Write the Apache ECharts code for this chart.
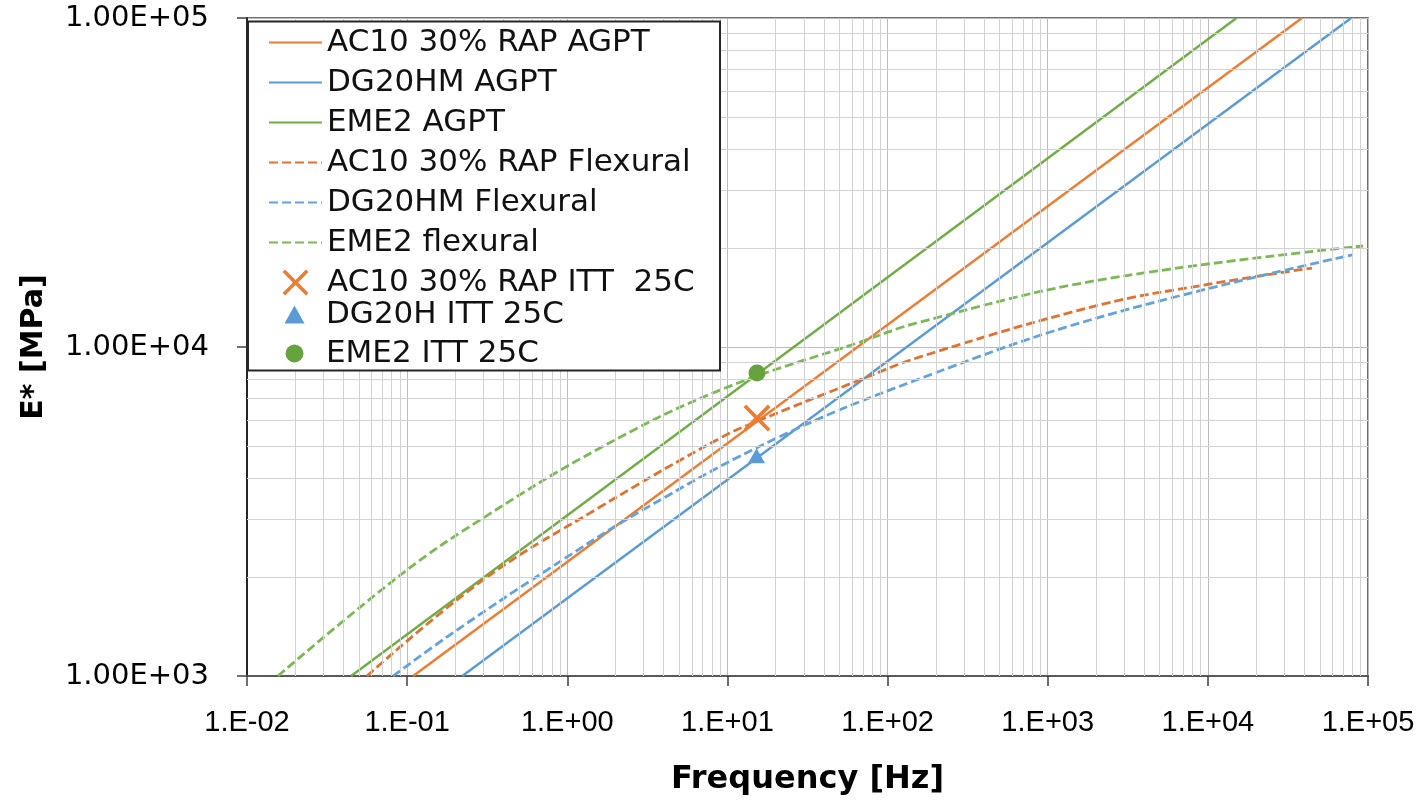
<!DOCTYPE html>
<html><head><meta charset="utf-8">
<script src="https://cdn.jsdelivr.net/npm/echarts@6/dist/echarts.min.js"></script>
<style>html,body{margin:0;padding:0;background:#fff}#c{width:1426px;height:802px}</style>
</head><body><div id="c"></div>
<script>
// ---- data (frequency [Hz], E* [MPa]) ----
const xTickLabels = ['1.E-02','1.E-01','1.E+00','1.E+01','1.E+02','1.E+03','1.E+04','1.E+05'];
const yTickLabels = ['1.00E+03','1.00E+04','1.00E+05'];
const seriesNames = ['AC10 30% RAP AGPT','DG20HM AGPT','EME2 AGPT','AC10 30% RAP Flexural','DG20HM Flexural','EME2 flexural','AC10 30% RAP ITT  25C','DG20H ITT 25C','EME2 ITT 25C'];

const ac10Agpt  = [[0.109, 1000], [38700, 100000]];
const dg20hmAgpt = [[0.221, 1000], [78500, 100000]];
const eme2Agpt  = [[0.0447, 1000], [15100, 100000]];

const ac10Flex = [[0.0561,1000],[0.298,1959],[1.53,3221],[8.99,5284],[15.3,5940],[67.3,7943],[159.6,9333],[2123,13430],[10000,15500],[44670,17380]];
const dg20hmFlex = [[0.0817,1000],[0.1854,1334],[0.746,2099],[2.97,3199],[20.3,5284],[159.6,8017],[2123,12331],[79430,19055]];
const eme2Flex = [[0.0156,1000],[0.0942,2056],[0.298,3020],[1.60,4932],[8.99,7396],[67.3,10351],[159.6,11912],[2123,15996],[93100,20277]];

const ac10Itt = [[15.3, 6080]];
const dg20hItt = [[15.2, 4670]];
const eme2Itt = [[15.3, 8340]];

const ORANGE = '#ED7D31', BLUE = '#5B9BD5', GREEN = '#70AD47';

// minor grid positions (2..9 per decade)
const minorX = [], minorY = [];
for (let e = -2; e < 5; e++) for (let m = 2; m < 10; m++) minorX.push(m * Math.pow(10, e));
for (let e = 3; e < 5; e++) for (let m = 2; m < 10; m++) minorY.push(m * Math.pow(10, e));

const chart = echarts.init(document.getElementById('c'), null, {renderer: 'canvas'});
const solid = (name, data, color) => ({name, type: 'line', data, symbol: 'none', showSymbol: false, z: 3,
  lineStyle: {color, width: 2.5, type: 'solid'}, itemStyle: {color}, animation: false});
const dashed = (name, data, color) => ({name, type: 'line', data, symbol: 'none', showSymbol: false,
  smooth: 0.4, z: 3,
  lineStyle: {color, width: 2.8, type: [9, 4]}, itemStyle: {color}, animation: false});

const legendText = {fontFamily: 'DejaVu Sans', fontSize: 31, color: '#111', lineHeight: 30};
const TRI = 'path://M5,0 L10,9 L0,9 Z';
const XMARK = 'path://M0,2 L2,0 L10,8 L18,0 L20,2 L12,10 L20,18 L18,20 L10,12 L2,20 L0,18 L8,10 Z';
const hideSym = {opacity: 0, borderWidth: 0};

chart.setOption({
  backgroundColor: '#fff',
  animation: false,
  grid: {left: 247, right: 58, top: 18, bottom: 126, show: true, borderColor: '#404040', borderWidth: 1.5},
  xAxis: {
    type: 'log', logBase: 10, min: 0.01, max: 100000, interval: 1,
    name: 'Frequency [Hz]', nameLocation: 'middle', nameGap: 88,
    nameTextStyle: {fontFamily: 'DejaVu Sans', fontWeight: 'bold', fontSize: 32, color: '#000'},
    axisLine: {show: true, lineStyle: {color: '#595959', width: 2}},
    axisTick: {show: true, inside: false, length: 10, lineStyle: {color: '#404040', width: 1.5}},
    axisLabel: {margin: 32, fontFamily: 'Liberation Sans', fontSize: 29, color: '#000', showMinLabel: true, showMaxLabel: true,
      formatter: v => xTickLabels[Math.round(Math.log10(v)) + 2]},
    splitLine: {show: true, lineStyle: {color: '#bcbcbc', width: 1}}
  },
  yAxis: {
    type: 'log', logBase: 10, min: 1000, max: 100000, interval: 1,
    name: 'E* [MPa]', nameLocation: 'middle', nameGap: 198, nameRotate: 90,
    nameTextStyle: {fontFamily: 'DejaVu Sans', fontWeight: 'bold', fontSize: 30, color: '#000'},
    axisLine: {show: true, lineStyle: {color: '#262626', width: 2}},
    axisTick: {show: true, inside: false, length: 10, lineStyle: {color: '#404040', width: 1.5}},
    axisLabel: {margin: 38, fontFamily: 'DejaVu Sans', fontSize: 29, color: '#000', showMinLabel: true, showMaxLabel: true,
      formatter: v => yTickLabels[Math.round(Math.log10(v)) - 3]},
    splitLine: {show: true, lineStyle: {color: '#bcbcbc', width: 1}}
  },
  graphic: {elements: [{type: 'rect', z: 50, silent: true,
    shape: {x: 248, y: 21.5, width: 472, height: 349},
    style: {fill: '#fff', stroke: '#262626', lineWidth: 2}}]},
  legend: [
    {data: seriesNames.slice(0, 6).map(n => ({name: n, itemStyle: hideSym})).concat([{name: seriesNames[6]}]),
     orient: 'vertical', left: 268, top: 27, padding: 0, z: 60,
     itemWidth: 53, itemHeight: 26, itemGap: 9, textStyle: legendText, selectedMode: false},
    {data: [seriesNames[7], seriesNames[8]],
     orient: 'vertical', left: 284.5, top: 299, padding: 0, z: 60,
     itemWidth: 53, itemHeight: 18, itemGap: 8, textStyle: legendText, selectedMode: false}
  ],
  series: [
    {name: 'minor-grid', type: 'line', data: [], z: 1, silent: true, animation: false,
     markLine: {silent: true, symbol: ['none', 'none'], label: {show: false}, animation: false,
       lineStyle: {color: '#d2d2d2', width: 1, type: 'solid'}, emphasis: {disabled: true},
       data: minorX.map(v => ({xAxis: v})).concat(minorY.map(v => ({yAxis: v})))}},
    solid(seriesNames[0], ac10Agpt, ORANGE),
    solid(seriesNames[1], dg20hmAgpt, BLUE),
    solid(seriesNames[2], eme2Agpt, GREEN),
    dashed(seriesNames[3], ac10Flex, '#E0722F'),
    dashed(seriesNames[4], dg20hmFlex, '#62A3DD'),
    dashed(seriesNames[5], eme2Flex, '#7CB856'),
    {name: seriesNames[6], type: 'scatter', data: ac10Itt, z: 5, animation: false,
     symbol: XMARK, symbolSize: 27, itemStyle: {color: ORANGE, opacity: 1}},
    {name: seriesNames[7], type: 'scatter', data: dg20hItt, z: 5, animation: false,
     symbol: TRI, symbolSize: [17, 15], itemStyle: {color: BLUE, opacity: 1}},
    {name: seriesNames[8], type: 'scatter', data: eme2Itt, z: 5, animation: false,
     symbol: 'circle', symbolSize: 17, itemStyle: {color: '#66A33F', opacity: 1}}
  ]
});
</script></body></html>
